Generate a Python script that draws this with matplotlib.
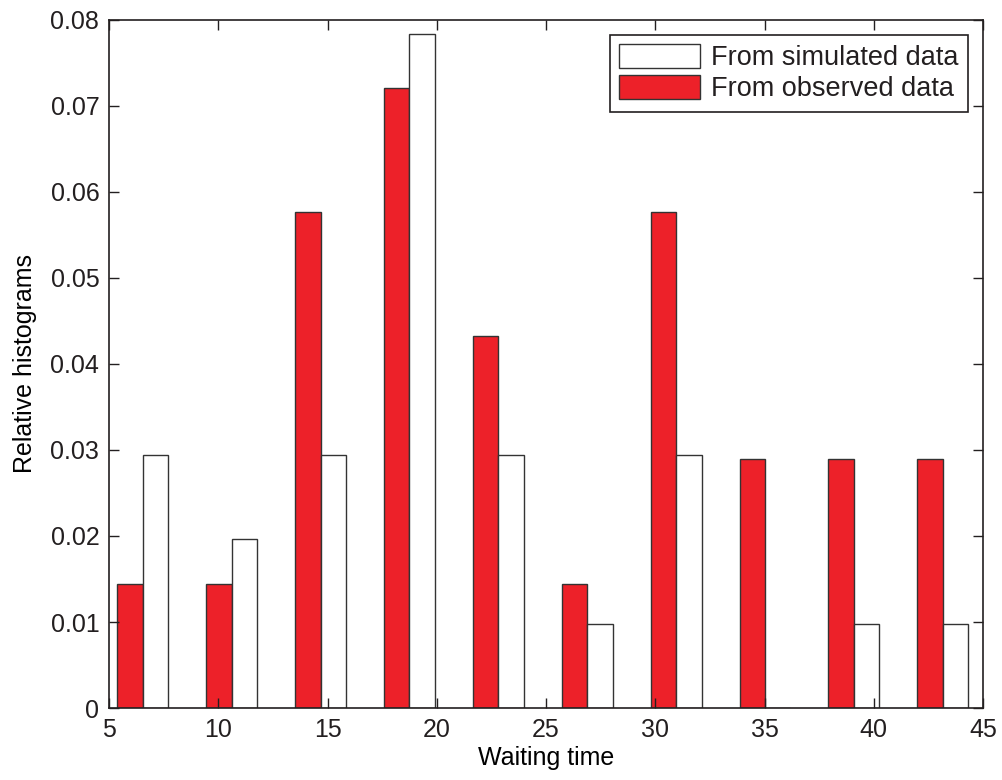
import matplotlib
matplotlib.use("Agg")
import matplotlib.pyplot as plt
import numpy as np

plt.rcParams['font.family'] = ['Liberation Sans', 'DejaVu Sans']
plt.rcParams['text.color'] = '#231F20'
plt.rcParams['xtick.color'] = '#231F20'
plt.rcParams['ytick.color'] = '#231F20'

# bin centres of the waiting-time histogram
centers = [6.54, 10.61, 14.68, 18.74, 22.81, 26.88, 30.95, 35.02, 39.08, 43.15]
observed = [0.0144, 0.0144, 0.0577, 0.0721, 0.0433, 0.0144, 0.0577, 0.0289, 0.0289, 0.0289]
simulated = [0.0294, 0.0196, 0.0294, 0.0784, 0.0294, 0.0098, 0.0294, 0.0, 0.0098, 0.0098]

bar_w = 1.166
red = '#ED2129'

fig = plt.figure(figsize=(10.02, 7.8), dpi=100)
ax = fig.add_axes([0.1088, 0.0923, 0.8723, 0.8821])

x = np.array(centers)
ax.bar(x - bar_w / 2, observed, width=bar_w, color=red, edgecolor='#333333',
       linewidth=1.0, label='From observed data')
ax.bar(x + bar_w / 2, simulated, width=bar_w, color='white', edgecolor='#333333',
       linewidth=1.0, label='From simulated data')

ax.set_xlim(5, 45)
ax.set_ylim(0, 0.08)
ax.set_xticks(np.arange(5, 46, 5))
ax.set_yticks(np.arange(0, 0.081, 0.01))
ax.set_yticklabels(['0'] + ['%.2f' % v for v in np.arange(0.01, 0.081, 0.01)])
ax.tick_params(direction='in', length=7, width=1, labelsize=18, top=True, right=True,
               pad=7)
for s in ax.spines.values():
    s.set_linewidth(1.2)
    s.set_color('#231F20')

ax.set_xlabel('Waiting time', fontsize=18, labelpad=3)
ax.set_ylabel('Relative histograms', fontsize=18, labelpad=10)

h, l = ax.get_legend_handles_labels()
leg = ax.legend(h[::-1], l[::-1], loc='upper right', fontsize=19.5, fancybox=False,
                edgecolor='#231F20', framealpha=1, handlelength=3.0, handleheight=0.95,
                borderaxespad=0.55, handletextpad=0.4, labelspacing=0.15,
                borderpad=0.35)
leg.get_frame().set_linewidth(1.2)

fig.savefig('out.png', dpi=100)
